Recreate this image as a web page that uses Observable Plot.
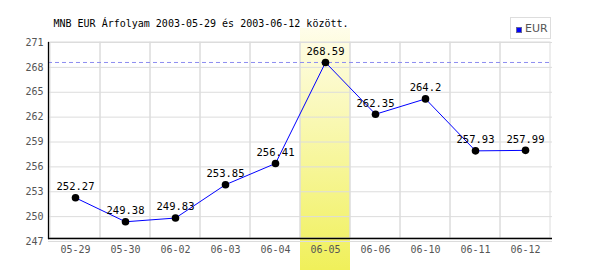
<!DOCTYPE html>
<html>
<head>
<meta charset="utf-8">
<script src="https://cdn.jsdelivr.net/npm/d3@7"></script>
<script src="https://cdn.jsdelivr.net/npm/@observablehq/plot@0.6"></script>
<style>
  body { margin: 0; background: #fff; }
  #wrap { position: relative; width: 600px; height: 270px; }
  #legend { position: absolute; left: 510px; top: 17px; width: 41px; height: 22px; border: 1px solid #ddd; background: #fff; box-sizing: border-box; font: 11px "DejaVu Sans", sans-serif; color: #555; }
  #legend .sw { position: absolute; left: 5px; top: 9px; width: 6px; height: 6px; background: #00f; border: 1px solid #669; box-sizing: border-box; }
  #legend .lb { position: absolute; left: 14px; top: 4px; }
</style>
</head>
<body>
<div id="wrap"></div>
<script>
const dates = ["05-29", "05-30", "06-02", "06-03", "06-04", "06-05", "06-06", "06-10", "06-11", "06-12"];
const values = [252.27, 249.38, 249.83, 253.85, 256.41, 268.59, 262.35, 264.2, 257.93, 257.99];
const yTicks = [247, 250, 253, 256, 259, 262, 265, 268, 271];
const title = "MNB EUR Árfolyam 2003-05-29 és 2003-06-12 között.";
const seriesName = "EUR";
const highlight = "06-05";

const data = dates.map((d, i) => ({date: d, value: values[i]}));
const maxVal = d3.max(values);
const font = "DejaVu Sans Mono, monospace";

const chart = Plot.plot({
  width: 600,
  height: 270,
  marginLeft: 48,
  marginRight: 48,
  marginTop: 42,
  marginBottom: 29,
  style: {fontFamily: font, fontSize: "10px", background: "#fff", overflow: "visible"},
  x: {type: "band", domain: dates, padding: 0, label: null, tickSize: 0, tickPadding: 4},
  y: {domain: [247, 271], ticks: yTicks, label: null, tickSize: 0, tickPadding: 5},
  marks: [
    Plot.barY([highlight], {x: d => d, y1: 247, y2: 271, fill: "url(#hlgrad)", insetTop: -14, insetBottom: -29}),
    Plot.ruleY(yTicks, {stroke: "#dcdcdc", strokeWidth: 1}),
    Plot.barY(dates, {x: d => d, y1: 247, y2: 271, fill: "none", stroke: "#dcdcdc", strokeWidth: 1, insetBottom: 3}),
    Plot.ruleY([maxVal], {stroke: "#8c8cf0", strokeDasharray: "4,3", strokeWidth: 1}),
    Plot.ruleY([247], {stroke: "#000", strokeWidth: 1.3, dy: -3}),
    Plot.frame({anchor: "left", stroke: "#000", strokeWidth: 1.3, insetBottom: 3}),
    Plot.axisX({tickSize: 0, tickPadding: 4, fill: "#555", fontSize: 10, fontFamily: font}),
    Plot.axisY({ticks: yTicks, tickSize: 0, tickPadding: 5, fill: "#555", fontSize: 10, fontFamily: font}),
    Plot.line(data, {x: "date", y: "value", stroke: "#0000ff", strokeWidth: 1}),
    Plot.dot(data, {x: "date", y: "value", r: 3.8, fill: "#000", stroke: "none"}),
    Plot.text(data, {x: "date", y: "value", text: d => String(d.value), dy: -11, lineAnchor: "middle", textAnchor: "middle", fill: "#000", fontSize: 10.5, fontFamily: font}),
    Plot.text([title], {frameAnchor: "top-left", dx: 5, dy: -19, lineAnchor: "middle", textAnchor: "start", fill: "#000", fontSize: 10, fontFamily: font})
  ]
});

const ns = "http://www.w3.org/2000/svg";
const defs = document.createElementNS(ns, "defs");
defs.innerHTML = '<linearGradient id="hlgrad" x1="0" y1="0" x2="0" y2="1"><stop offset="0" stop-color="#fffdea"/><stop offset="1" stop-color="#f0f05a"/></linearGradient>';
chart.insertBefore(defs, chart.firstChild);

const wrap = document.getElementById("wrap");
wrap.appendChild(chart);
const legend = document.createElement("div");
legend.id = "legend";
legend.innerHTML = '<div class="sw"></div><div class="lb"></div>';
legend.querySelector(".lb").textContent = seriesName;
wrap.appendChild(legend);
</script>
</body>
</html>
